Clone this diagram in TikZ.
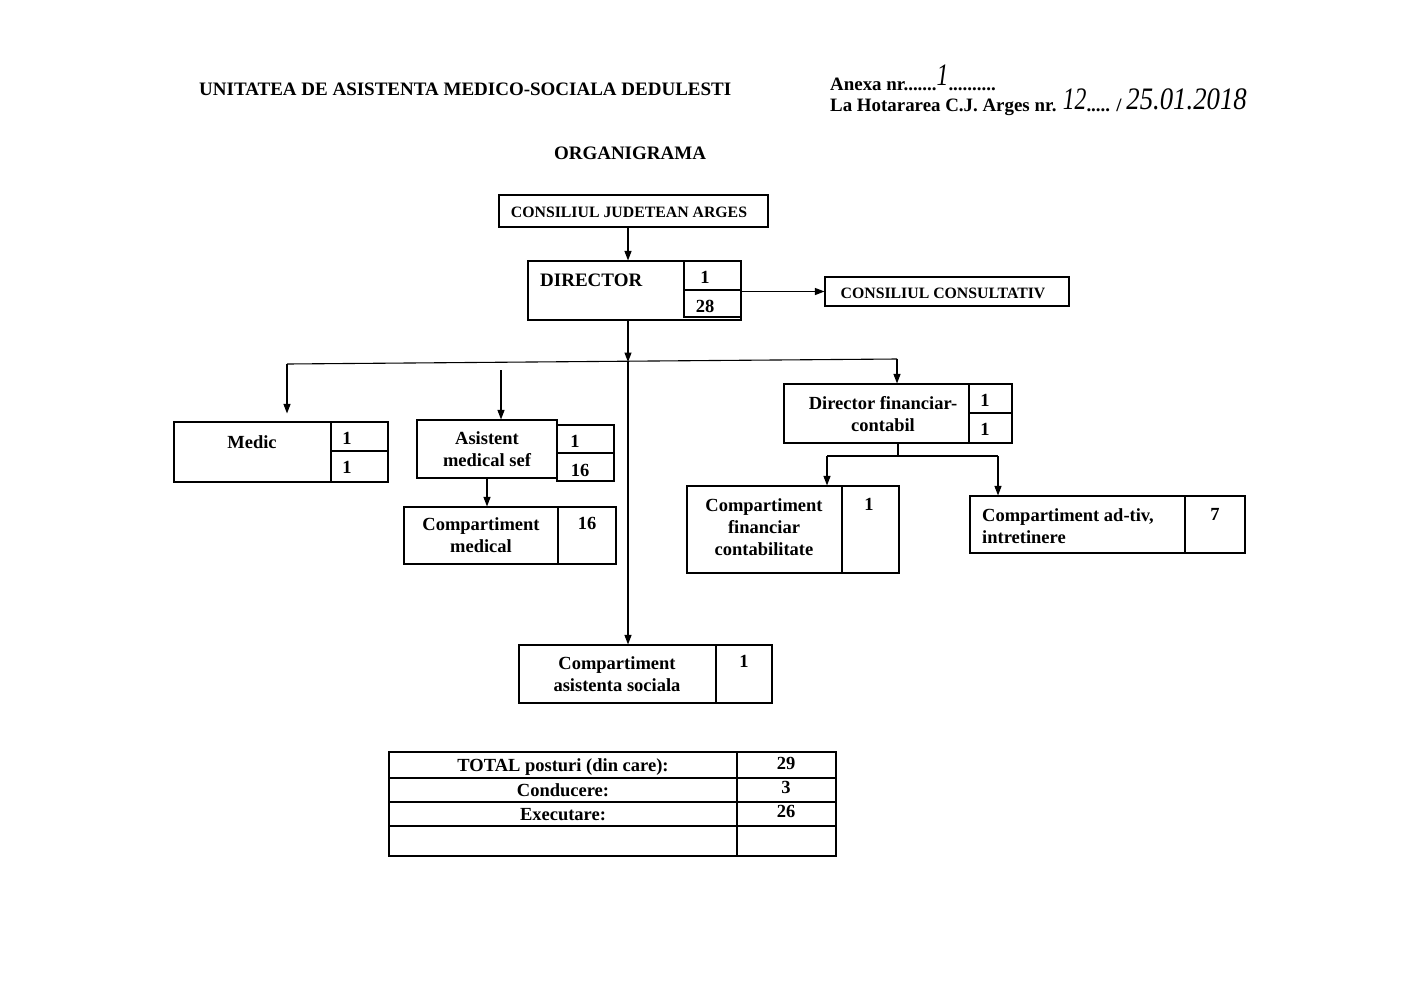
\documentclass[tikz,border=0pt]{standalone}
\usepackage{fontspec}
\setmainfont{Liberation Serif}
\usetikzlibrary{arrows.meta,fit}
\newcommand{\handw}[2][0.95]{{\fontsize{25}{27}\selectfont\mdseries\itshape\scalebox{#1}[1.25]{#2}}}
\tikzset{
  box/.style={draw, line width=1.1pt, inner sep=0pt, rectangle},
  arr/.style={-{Triangle[length=9.5pt,width=7pt]}, line width=1.1pt},
  ln/.style={line width=1.1pt},
  txt/.style={font=\fontsize{18.5}{22}\selectfont\bfseries, align=center, inner sep=0pt},
  caps/.style={font=\fontsize{15.8}{18}\selectfont\bfseries, inner sep=0pt},
  head/.style={font=\fontsize{19}{22}\selectfont\bfseries, inner sep=0pt},
  annex/.style={font=\fontsize{18.9}{21}\selectfont\bfseries, inner sep=0pt, anchor=base west},
}
\begin{document}
\begin{tikzpicture}[x=1pt,y=-1pt]
\useasboundingbox[fill=white] (0,0) rectangle (1415,1001);

% header
\node[head, anchor=base west] (h1) at (199,95) {UNITATEA DE ASISTENTA MEDICO-SOCIALA DEDULESTI};
\node[annex] (h2) at (830,90) {Anexa nr.......\raisebox{5pt}{\handw{1}}..........};
\node[annex] (h3) at (830,111) {La Hotararea C.J. Arges nr. \raisebox{2pt}{\handw{12}}..... / \raisebox{2pt}{\handw[1.07]{25.01.2018}}};
\node[head, anchor=base] (org) at (630,159) {ORGANIGRAMA};

% Consiliul judetean
\node[box, fit={(499,195) (768,227)}] (cj) {};
\node[caps] (cjt) at (629,212) {CONSILIUL JUDETEAN ARGES};

% Director
\node[box, fit={(528,261) (741,320)}] (dir) {};
\node[box, fit={(684,261) (741,290)}] (dirc1) {};
\node[box, fit={(684,290) (741,317)}] (dirc2) {};
\node[head, anchor=west] (dirt) at (540,280) {DIRECTOR};
\node[txt] (dirn1) at (705,277) {1};
\node[txt] (dirn2) at (705,306) {28};

% Consiliul consultativ
\node[box, fit={(825,277) (1069,306)}] (cc) {};
\node[caps] (cct) at (943,293) {CONSILIUL CONSULTATIV};

% Medic
\node[box, fit={(174,422) (388,482)}] (med) {};
\node[box, fit={(331,422) (388,451)}] (medc1) {};
\node[box, fit={(331,451) (388,482)}] (medc2) {};
\node[txt] (medt) at (252,442) {Medic};
\node[txt] (medn1) at (347,438) {1};
\node[txt] (medn2) at (347,467) {1};

% Asistent medical sef
\node[box, fit={(417,420) (557,478)}] (asis) {};
\node[box, fit={(557,425) (614,453)}] (asisc1) {};
\node[box, fit={(557,453) (614,481)}] (asisc2) {};
\node[txt] (asist) at (487,449) {Asistent\\medical sef};
\node[txt] (asisn1) at (575,441) {1};
\node[txt] (asisn2) at (580,470) {16};

% Compartiment medical
\node[box, fit={(404,507) (616,564)}] (cm) {};
\node[box, fit={(558,507) (616,564)}] (cmc) {};
\node[txt] (cmt) at (481,535) {Compartiment\\medical};
\node[txt] (cmn) at (587,523) {16};

% Director financiar-contabil
\node[box, fit={(784,384) (1012,443)}] (df) {};
\node[box, fit={(969,384) (1012,413)}] (dfc1) {};
\node[box, fit={(969,413) (1012,443)}] (dfc2) {};
\node[txt] (dft) at (883,414) {Director financiar-\\contabil};
\node[txt] (dfn1) at (985,400) {1};
\node[txt] (dfn2) at (985,429) {1};

% Compartiment financiar contabilitate
\node[box, fit={(687,486) (899,573)}] (cfc) {};
\node[box, fit={(842,486) (899,573)}] (cfcc) {};
\node[txt] (cfct) at (764,527) {Compartiment\\financiar\\contabilitate};
\node[txt] (cfcn) at (869,504) {1};

% Compartiment ad-tiv, intretinere
\node[box, fit={(970,496) (1245,553)}] (cai) {};
\node[box, fit={(1185,496) (1245,553)}] (caic) {};
\node[txt, align=left, anchor=west] (cait) at (982,526) {Compartiment ad-tiv,\\intretinere};
\node[txt] (cain) at (1215,514) {7};

% Compartiment asistenta sociala
\node[box, fit={(519,645) (772,703)}] (cas) {};
\node[box, fit={(716,645) (772,703)}] (casc) {};
\node[txt] (cast) at (617,674) {Compartiment\\asistenta sociala};
\node[txt] (casn) at (744,661) {1};

% Table
\node[box, fit={(389,752) (737,778)}] (t11) {};
\node[box, fit={(737,752) (836,778)}] (t12) {};
\node[box, fit={(389,778) (737,802)}] (t21) {};
\node[box, fit={(737,778) (836,802)}] (t22) {};
\node[box, fit={(389,802) (737,826)}] (t31) {};
\node[box, fit={(737,802) (836,826)}] (t32) {};
\node[box, fit={(389,826) (737,856)}] (t41) {};
\node[box, fit={(737,826) (836,856)}] (t42) {};
\node[txt] (t11t) at (563,767) {TOTAL posturi (din care):};
\node[txt] (t12t) at (786,763) {29};
\node[txt] (t21t) at (563,790) {Conducere:};
\node[txt] (t22t) at (786,787) {3};
\node[txt] (t31t) at (563,815) {Executare:};
\node[txt] (t32t) at (786,811) {26};

% connectors
\coordinate (jM) at (628,362);
\coordinate (jL) at (287,364);
\coordinate (jR) at (897,359);
\coordinate (asTop) at (501,370);
\coordinate (dfL) at (827,456);
\coordinate (dfR) at (998,456);

\draw[arr] (jM |- cj.south) -- (jM |- dir.north);
\draw[arr] (cc.west -| dirc2.east) -- (cc.west);
\draw[arr] (jM |- dir.south) -- (jM);
\draw[arr] (jM) -- (jM |- cas.north);
\draw[ln] (jL) -- (jR);
\draw[arr, shorten >=8pt] (jL) -- (jL |- med.north);
\draw[arr] (asTop) -- (asTop |- asis.north);
\draw[arr] (jR) -- (jR |- df.north);
\draw[arr] (asis.south) -- (asis.south |- cm.north);
\draw[ln] (df.south) -- (df.south |- dfL);
\draw[ln] (dfL) -- (dfR);
\draw[arr] (dfL) -- (dfL |- cfc.north);
\draw[arr] (dfR) -- (dfR |- cai.north);
\end{tikzpicture}
\end{document}
